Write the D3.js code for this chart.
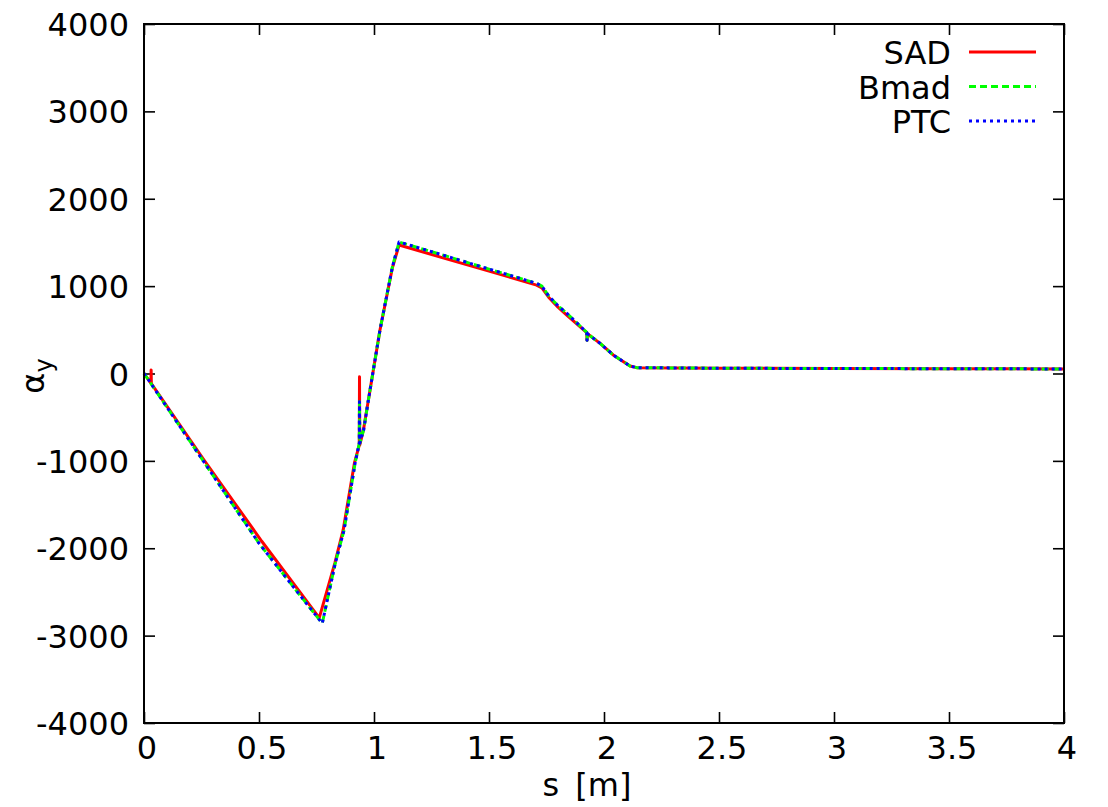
<!DOCTYPE html>
<html>
<head>
<meta charset="utf-8">
<script src="https://cdn.jsdelivr.net/npm/d3@7"></script>
<style>
  body { margin: 0; background: #fff; }
  text { font-family: "DejaVu Sans", "Liberation Sans", Arial, sans-serif; fill: #000; }
</style>
</head>
<body>
<div id="chart"></div>
<script>
// values
var sadS = [0, 0.03, 0.031, 0.032, 0.261, 0.512, 0.762, 0.83, 0.866, 0.915, 0.936, 0.937, 0.938, 0.954, 0.978, 1.026, 1.08, 1.109, 1.3, 1.5, 1.707, 1.73, 1.76, 1.8, 1.838, 1.925, 1.926, 1.928, 1.983, 2.04, 2.113, 2.142, 2.5, 3, 3.5, 4];
var sadA = [0, -110, 40, -115, -990, -1920, -2797, -2168, -1790, -1024, -820, -37, -820, -646, -265, 498, 1210, 1470, 1324, 1171, 1012, 980, 870, 760, 669, 468, 380, 455, 345, 212, 86, 67, 60, 57, 55, 52];

var bmadS = [0, 0.005, 0.26, 0.5, 0.775, 0.83, 0.87, 0.918, 0.936, 0.937, 0.938, 0.955, 0.978, 1.026, 1.08, 1.109, 1.3, 1.5, 1.707, 1.73, 1.76, 1.8, 1.84, 1.925, 1.926, 1.928, 1.983, 2.04, 2.113, 2.142, 2.5, 3, 3.5, 4];
var bmadA = [0, -17, -1010, -1943, -2860, -2190, -1790, -1024, -800, -322, -800, -646, -265, 498, 1220, 1505, 1355, 1195, 1032, 1000, 885, 775, 685, 470, 380, 455, 345, 212, 86, 67, 60, 57, 55, 52];

var ptcS = bmadS.slice();
var ptcA = bmadA.slice();

var xTicks = [0, 0.5, 1, 1.5, 2, 2.5, 3, 3.5, 4];
var yTicks = [-4000, -3000, -2000, -1000, 0, 1000, 2000, 3000, 4000];
var seriesNames = ['SAD', 'Bmad', 'PTC'];

var W = 1108, H = 807;
var margin = { top: 24, right: 44, bottom: 84, left: 144 };
var width = W - margin.left - margin.right,
  height = H - margin.top - margin.bottom;

var svg = d3.select('#chart').append('svg')
  .attr('width', W)
  .attr('height', H);

var g = svg.append('g')
  .attr('transform', 'translate(' + margin.left + ',' + margin.top + ')');

var x = d3.scaleLinear().domain([0, 4]).range([0, width]);
var y = d3.scaleLinear().domain([-4000, 4000]).range([height, 0]);

var fs = 32, tick = 11;

// ticks, mirrored on all sides, pointing inward
g.append('g').call(d3.axisBottom(x).tickValues(xTicks).tickSize(tick).tickFormat(''))
  .attr('transform', 'translate(0,' + (height - tick) + ')');
g.append('g').call(d3.axisTop(x).tickValues(xTicks).tickSize(tick).tickFormat(''))
  .attr('transform', 'translate(0,' + tick + ')');
g.append('g').call(d3.axisLeft(y).tickValues(yTicks).tickSize(tick).tickFormat(''))
  .attr('transform', 'translate(' + tick + ',0)');
g.append('g').call(d3.axisRight(y).tickValues(yTicks).tickSize(tick).tickFormat(''))
  .attr('transform', 'translate(' + (width - tick) + ',0)');
g.selectAll('.domain').remove();
g.selectAll('.tick line').attr('stroke', '#000').attr('stroke-width', 1.6);

// tick labels
g.selectAll('.xlab').data(xTicks).enter().append('text')
  .attr('x', function (d) { return x(d) + 3; })
  .attr('y', height + 36)
  .attr('text-anchor', 'middle')
  .style('font-size', fs + 'px')
  .text(function (d) { return d; });

g.selectAll('.ylab').data(yTicks).enter().append('text')
  .attr('x', -15)
  .attr('y', function (d) { return y(d) + 12; })
  .attr('text-anchor', 'end')
  .style('font-size', fs + 'px')
  .text(function (d) { return d; });

// axis titles
svg.append('text')
  .attr('x', 587)
  .attr('y', 796)
  .attr('text-anchor', 'middle')
  .style('font-size', fs + 'px')
  .style('word-spacing', '6px')
  .text('s [m]');

var yl = svg.append('text')
  .attr('transform', 'translate(44,' + 376 + ') rotate(-90)')
  .attr('text-anchor', 'middle')
  .style('font-size', fs + 'px');
yl.append('tspan').text('α');
yl.append('tspan').attr('dy', 8).style('font-size', '24px').text('y');

// curves
var line = d3.line()
  .x(function (d) { return x(d[0]); })
  .y(function (d) { return y(d[1]); });

function pairs(s, a) {
  return s.map(function (v, i) { return [v, a[i]]; });
}

var styles = [
  { color: '#ff0000', dash: null },
  { color: '#00ff00', dash: '7,4' },
  { color: '#0000ff', dash: '3,4' }
];
var data = [pairs(sadS, sadA), pairs(bmadS, bmadA), pairs(ptcS, ptcA)];

var plot = g.append('g');
data.forEach(function (d, i) {
  plot.append('path')
    .datum(d)
    .attr('d', line)
    .attr('fill', 'none')
    .attr('stroke', styles[i].color)
    .attr('stroke-width', 3)
    .attr('stroke-linejoin', 'round')
    .attr('stroke-dasharray', styles[i].dash);
});

// legend
var lg = svg.append('g');
seriesNames.forEach(function (name, i) {
  var ly = 52 + i * 34.5;
  lg.append('text')
    .attr('x', 951)
    .attr('y', ly + 12)
    .attr('text-anchor', 'end')
    .style('font-size', fs + 'px')
    .text(name);
  lg.append('line')
    .attr('x1', 969).attr('x2', 1036)
    .attr('y1', ly).attr('y2', ly)
    .attr('stroke', styles[i].color)
    .attr('stroke-width', 3)
    .attr('stroke-dasharray', styles[i].dash);
});

// frame
g.append('rect')
  .attr('width', width)
  .attr('height', height)
  .attr('fill', 'none')
  .attr('stroke', '#000')
  .attr('stroke-width', 2);
</script>
</body>
</html>
